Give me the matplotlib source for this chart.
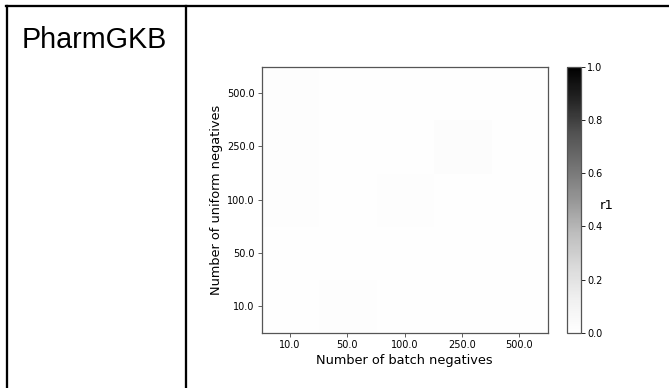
import numpy as np
import matplotlib
matplotlib.use("Agg")
import matplotlib.pyplot as plt
from matplotlib.lines import Line2D

# values
batch_negatives = [10.0, 50.0, 100.0, 250.0, 500.0]
uniform_negatives = [10.0, 50.0, 100.0, 250.0, 500.0]
# rows: uniform negatives (10 -> 500), columns: batch negatives (10 -> 500)
r1_row_10 = [0.004, 0.012, 0.007, 0.008, 0.009]
r1_row_50 = [0.005, 0.005, 0.005, 0.005, 0.005]
r1_row_100 = [0.013, 0.006, 0.012, 0.005, 0.005]
r1_row_250 = [0.012, 0.010, 0.010, 0.020, 0.005]
r1_row_500 = [0.014, 0.006, 0.006, 0.006, 0.006]
dataset_name = "PharmGKB"

W, H = 669, 388


def px(x0, y0, w, h):
    # pixel box (from top-left) -> figure fraction
    return [x0 / W, 1 - (y0 + h) / H, w / W, h / H]


fig = plt.figure(figsize=(W / 100, H / 100), dpi=100)

# table borders
lw = 1.65
fig.add_artist(Line2D([6 / W, 1], [1 - 6 / H, 1 - 6 / H], color='black',
                      lw=lw, transform=fig.transFigure))
fig.add_artist(Line2D([7 / W, 7 / W], [0, 1 - 6 / H], color='black',
                      lw=lw, transform=fig.transFigure))
fig.add_artist(Line2D([185.5 / W, 185.5 / W], [0, 1 - 6 / H], color='black',
                      lw=lw, transform=fig.transFigure))

fig.text(21.5 / W, 1 - 48.3 / H, dataset_name, fontsize=20.7,
         family='Liberation Sans', ha='left', va='baseline')

grid = np.array([r1_row_10, r1_row_50, r1_row_100, r1_row_250, r1_row_500])

ax = fig.add_axes(px(261.5, 66.7, 286.3, 266))
im = ax.imshow(grid, cmap='Greys', vmin=0, vmax=1, origin='lower',
               aspect='auto')
ax.set_xticks(range(len(batch_negatives)))
ax.set_xticklabels([str(v) for v in batch_negatives], fontsize=7)
ax.set_yticks(range(len(uniform_negatives)))
ax.set_yticklabels([str(v) for v in uniform_negatives], fontsize=7)
ax.tick_params(length=3, width=0.6, color='#444444', pad=2)
for s in ax.spines.values():
    s.set_color('#555555')
    s.set_linewidth(0.9)
ax.set_xlabel("Number of batch negatives", fontsize=9.3, labelpad=3)
ax.set_ylabel("Number of uniform negatives", fontsize=9.3, labelpad=3)

cax = fig.add_axes(px(566.5, 66.7, 14, 266))
cb = fig.colorbar(im, cax=cax)
cb.set_ticks([0.0, 0.2, 0.4, 0.6, 0.8, 1.0])
cb.ax.tick_params(labelsize=7, length=3, width=0.6, pad=2)
cb.outline.set_edgecolor('#555555')
cb.outline.set_linewidth(0.9)
cb.set_label("r1", rotation=0, fontsize=9.5, ha='center', va='center')
cb.ax.yaxis.set_label_coords(2.85, 0.48)

fig.savefig("out.png", dpi=100)
